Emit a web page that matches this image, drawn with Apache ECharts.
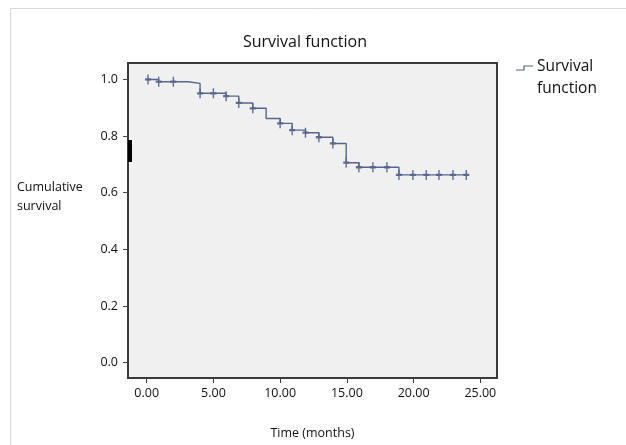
<!DOCTYPE html>
<html>
<head>
<meta charset="utf-8">
<script src="https://cdn.jsdelivr.net/npm/echarts@6/dist/echarts.min.js"></script>
<style>html,body{margin:0;padding:0;background:#fff;}#c{width:626px;height:445px;}</style>
</head>
<body>
<div id="c"></div>
<script>
// Step changes of the survival function: time (months) and new survival level
const stepTimes = [0, 0.9, 3.1, 4.0, 5.95, 6.9, 7.95, 8.95, 10.0, 10.9, 11.9, 12.9, 13.95, 14.95, 15.9, 18.9, 24.0];
const stepSurv  = [1.0, 0.992, 0.986, 0.951, 0.941, 0.917, 0.898, 0.862, 0.845, 0.821, 0.812, 0.796, 0.774, 0.706, 0.690, 0.663, 0.663];
// Censored observations
const censorTimes = [0.1, 0.9, 2.0, 4.0, 5.0, 5.95, 6.9, 7.95, 10.0, 10.9, 11.9, 12.9, 13.95, 14.95, 15.9, 16.95, 18.0, 18.9, 19.95, 20.95, 21.9, 22.95, 23.95];
const censorSurv  = [1.0, 0.992, 0.992, 0.951, 0.951, 0.941, 0.917, 0.898, 0.845, 0.821, 0.812, 0.796, 0.774, 0.706, 0.690, 0.690, 0.690, 0.663, 0.663, 0.663, 0.663, 0.663, 0.663];
const xTicks = [0, 5, 10, 15, 20, 25];
const yTicks = [0, 0.2, 0.4, 0.6, 0.8, 1.0];

const FONT = '"Open Sans", "Noto Sans", sans-serif';
const chart = echarts.init(document.getElementById('c'), null, {renderer: 'canvas'});
const plus = 'path://M0,-1L0,1M-1,0L1,0';
chart.setOption({
  animation: false,
  backgroundColor: '#ffffff',
  title: {
    text: 'Survival function', left: 300, top: 29, textAlign: 'center',
    textStyle: {fontFamily: FONT, fontSize: 16, fontWeight: 'normal', color: '#111'}
  },
  grid: {
    left: 128, right: 129, top: 63, bottom: 67,
    show: true, backgroundColor: '#f0f0f0', borderColor: '#3a3a3a', borderWidth: 2
  },
  xAxis: {
    type: 'value', min: -1.4, max: 26.25,
    axisLine: {show: false, onZero: false},
    splitLine: {show: false},
    axisTick: {show: true, inside: false, length: 5, customValues: xTicks, lineStyle: {color: '#444'}},
    axisLabel: {customValues: xTicks, formatter: v => v.toFixed(2), margin: 9,
      fontFamily: FONT, fontSize: 12.5, color: '#111'},
    name: 'Time (months)', nameLocation: 'middle', nameGap: 49,
    nameTextStyle: {fontFamily: FONT, fontSize: 12.5, color: '#111', letterSpacing: -0.6}
  },
  yAxis: {
    type: 'value', min: -0.054, max: 1.058,
    axisLine: {show: false, onZero: false},
    splitLine: {show: false},
    axisTick: {show: true, inside: false, length: 5, customValues: yTicks, lineStyle: {color: '#444'}},
    axisLabel: {customValues: yTicks, formatter: v => v.toFixed(1), margin: 10,
      fontFamily: FONT, fontSize: 12.5, color: '#111'}
  },
  graphic: [
    {type: 'line', shape: {x1: 10.5, y1: 8.5, x2: 626, y2: 8.5}, style: {stroke: '#d8d8d8', lineWidth: 1}},
    {type: 'line', shape: {x1: 10.5, y1: 8.5, x2: 10.5, y2: 445}, style: {stroke: '#d8d8d8', lineWidth: 1}},
    {type: 'rect', shape: {x: 128, y: 140, width: 4, height: 22}, style: {fill: '#000'}},
    {type: 'text', left: 17, top: 178, style: {text: 'Cumulative\nsurvival', font: '12.5px ' + FONT, fill: '#111', lineHeight: 19}},
    {type: 'polyline', shape: {points: [[516, 70], [524, 70], [524, 66], [533, 66]]}, style: {stroke: '#5a6585', lineWidth: 1.2, fill: null}},
    {type: 'text', left: 537, top: 56, style: {text: 'Survival\nfunction', font: '15.5px ' + FONT, fill: '#111', lineHeight: 22}}
  ],
  series: [
    {
      type: 'line', step: 'end', symbol: 'none',
      lineStyle: {color: '#56658c', width: 1.4},
      data: stepTimes.map((t, i) => [t, stepSurv[i]])
    },
    {
      type: 'scatter', symbol: plus, symbolSize: [6, 10],
      itemStyle: {color: 'none', borderColor: '#3e4c7a', borderWidth: 1.8},
      data: censorTimes.map((t, i) => [t, censorSurv[i]])
    }
  ]
});
</script>
</body>
</html>
